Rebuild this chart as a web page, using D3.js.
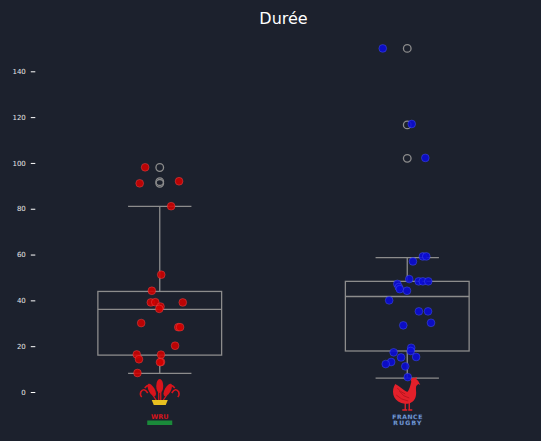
<!DOCTYPE html>
<html><head><meta charset="utf-8">
<script src="https://cdn.jsdelivr.net/npm/d3@7"></script>
<style>html,body{margin:0;padding:0;background:#1c212d;}svg{display:block;}</style>
</head><body>
<div id="chart"></div>
<script>
const categories = ["Pays de Galles", "France"];
const tickValues = [0, 20, 40, 60, 80, 100, 120, 140];
const title = "Durée";

// box statistics: [whiskerLow, q1, median, q3, whiskerHigh]
const walesBox = [8.1, 16.1, 36.1, 43.9, 81.0];
const franceBox = [6.1, 17.9, 41.7, 48.3, 58.7];
const walesOutliers = [98, 91.8, 91.1];
const franceOutliers = [150, 116.6, 102];

// individual matches (values) and horizontal jitter (fraction of band)
const walesValues = [98.1, 91.1, 92.0, 81.1, 51.2, 44.2, 39.1, 39.2, 39.1, 37.3, 36.3, 30.1, 28.3, 28.3, 20.2, 16.4, 14.3, 16.3, 13.1, 8.3, 13.0];
const walesJitter = [-0.059, -0.081, 0.078, 0.046, 0.006, -0.032, -0.036, -0.018, 0.093, 0.003, -0.002, -0.075, 0.075, 0.082, 0.062, -0.093, -0.084, 0.005, 0.005, -0.090, 0.001];
const franceValues = [150, 117, 102.2, 59.2, 59.2, 57.0, 49.3, 48.3, 48.3, 48.3, 47.2, 45.8, 44.9, 44.2, 40.0, 35.2, 35.2, 30.2, 29.1, 19.3, 17.9, 17.3, 15.1, 15.3, 13.1, 12.2, 11.2, 6.5];
const franceJitter = [-0.099, 0.018, 0.073, 0.063, 0.077, 0.023, 0.008, 0.046, 0.063, 0.085, -0.040, -0.034, -0.030, -0.001, -0.073, 0.047, 0.084, 0.096, -0.016, 0.016, 0.014, -0.055, -0.025, 0.036, -0.065, -0.087, -0.008, 0.002];

const W = 541, H = 441;
const svg = d3.select("#chart").append("svg").attr("width", W).attr("height", H);
svg.append("rect").attr("width", W).attr("height", H).attr("fill", "#1c212d");

const x = d3.scaleBand().domain(categories).range([36, 531]);
const y = d3.scaleLinear().domain([0, 140]).range([392, 71.3]);
const bw = x.bandwidth();

svg.append("text").attr("x", 283.5).attr("y", 24).attr("text-anchor", "middle")
  .attr("fill", "#ffffff").attr("font-family", "DejaVu Sans").attr("font-size", 16).text(title);

const ax = svg.append("g").attr("transform", "translate(35.3,0)")
  .call(d3.axisLeft(y).tickValues(tickValues).tickSize(4.5).tickPadding(5));
ax.select(".domain").remove();
ax.selectAll(".tick line").attr("stroke", "#ffffff").attr("stroke-width", 1);
ax.selectAll(".tick text").attr("fill", "#e6e6e6").attr("font-family", "DejaVu Sans").attr("font-size", 7);

const groups = [
  {cat: categories[0], box: walesBox, out: walesOutliers, vals: walesValues, jit: walesJitter, fill: "#d00000", edge: "#ff6060"},
  {cat: categories[1], box: franceBox, out: franceOutliers, vals: franceValues, jit: franceJitter, fill: "#0a0ad8", edge: "#5a6cff"}
];

const boxStroke = "#8c8c8c";
groups.forEach(g => {
  const cx = x(g.cat) + bw / 2;
  const half = bw * 0.25, cap = bw * 0.128;
  const [lo, q1, med, q3, hi] = g.box;
  const gg = svg.append("g").attr("stroke", boxStroke).attr("stroke-width", 1.3).attr("fill", "none");
  gg.append("line").attr("x1", cx).attr("x2", cx).attr("y1", y(q3)).attr("y2", y(hi));
  gg.append("line").attr("x1", cx).attr("x2", cx).attr("y1", y(q1)).attr("y2", y(lo));
  gg.append("line").attr("x1", cx - cap).attr("x2", cx + cap).attr("y1", y(hi)).attr("y2", y(hi));
  gg.append("line").attr("x1", cx - cap).attr("x2", cx + cap).attr("y1", y(lo)).attr("y2", y(lo));
  gg.append("rect").attr("x", cx - half).attr("width", 2 * half).attr("y", y(q3)).attr("height", y(q1) - y(q3));
  gg.append("line").attr("x1", cx - half).attr("x2", cx + half).attr("y1", y(med)).attr("y2", y(med));
  gg.selectAll("circle.out").data(g.out).join("circle").attr("class", "out")
    .attr("cx", cx).attr("cy", d => y(d)).attr("r", 3.8);
});

groups.forEach(g => {
  const cx = x(g.cat) + bw / 2;
  svg.append("g").selectAll("circle").data(g.vals.map((v, i) => [v, g.jit[i]])).join("circle")
    .attr("cx", d => cx + d[1] * bw).attr("cy", d => y(d[0])).attr("r", 3.9)
    .attr("fill", g.fill).attr("fill-opacity", 0.88)
    .attr("stroke", g.edge).attr("stroke-opacity", 0.6).attr("stroke-width", 0.6);
});

// Wales (WRU) emblem under first box
(function () {
  const cx = x(categories[0]) + bw / 2;
  const e = svg.append("g").attr("transform", `translate(${cx},0)`);
  const red = "#d8141c";
  e.append("ellipse").attr("cx", 0).attr("cy", 386).attr("rx", 3.5).attr("ry", 7).attr("fill", red);
  e.append("ellipse").attr("cx", 0).attr("cy", 0).attr("rx", 3).attr("ry", 7)
    .attr("transform", "translate(-8,390) rotate(-28)").attr("fill", red);
  e.append("ellipse").attr("cx", 0).attr("cy", 0).attr("rx", 3).attr("ry", 7)
    .attr("transform", "translate(8,390) rotate(28)").attr("fill", red);
  e.append("path").attr("d", "M-1,392 L-1,401 M1,392 L1,401 M-7,395 L-3,401 M7,395 L3,401")
    .attr("stroke", red).attr("stroke-width", 1.3);
  e.append("path").attr("d", "M-12,393 q-4,-6 -7,-1 q-1,3 1,5 M12,393 q4,-6 7,-1 q1,3 -1,5 M-15,388 q3,-4 6,-2 M15,388 q-3,-4 -6,-2")
    .attr("stroke", red).attr("stroke-width", 1.6).attr("fill", "none");
  e.append("path").attr("d", "M-8,400 L8,400 L6,405 L-6,405 Z").attr("fill", "#e8c020");
  e.append("text").attr("x", 0).attr("y", 418.5).attr("text-anchor", "middle")
    .attr("font-family", "DejaVu Sans").attr("font-weight", "bold").attr("font-size", 6.5)
    .attr("fill", red).text("WRU");
  e.append("rect").attr("x", -12.5).attr("y", 420.5).attr("width", 25).attr("height", 4.5).attr("fill", "#1a8a3a");
})();

// France Rugby emblem under second box
(function () {
  const cx = x(categories[1]) + bw / 2;
  const e = svg.append("g").attr("transform", `translate(${cx},0)`);
  const red = "#e3202a";
  e.append("path").attr("d",
    "M-12,384 C-16,390 -15,400 -6,403 C0,405 6,403 8,398 C10,393 8,390 9,386 L11,384 L13,385 L11,381 L9,379 L10,377 L7,378 C5,377 3,379 4,382 C3,386 2,390 0,392 C-4,390 -8,386 -12,384 Z")
    .attr("fill", red);
  e.append("path").attr("d", "M-8,391 q4,6 10,7 M-11,395 q5,5 12,6 M-10,388 q3,4 8,6")
    .attr("stroke", "#a8101a").attr("stroke-width", 0.7).attr("fill", "none");
  e.append("path").attr("d", "M-2,403 L-2,410 M2,403 L2,410 M-5,410 L0,410 M1,410 L5,410")
    .attr("stroke", red).attr("stroke-width", 1.3);
  const t = e.append("g").attr("font-family", "DejaVu Sans").attr("font-weight", "bold").attr("font-size", 6)
    .attr("text-anchor", "middle").attr("fill", "#8fb4e8").attr("stroke", "#2a4c8c").attr("stroke-width", 0.3);
  t.append("text").attr("x", 0).attr("y", 418.5).attr("textLength", 30).text("FRANCE");
  t.append("text").attr("x", 0).attr("y", 424.5).attr("textLength", 28).text("RUGBY");
})();
</script>
</body></html>
